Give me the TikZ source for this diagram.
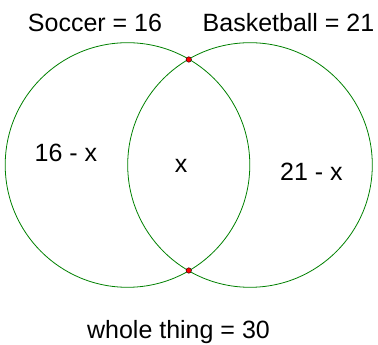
\documentclass[tikz,border=0pt]{standalone}
\usepackage{fontspec}
\setmainfont{Liberation Sans}
\begin{document}
\begin{tikzpicture}[x=1pt,y=1pt,
  setcircle/.style={draw=green!50!black,line width=0.8pt},
  dotmark/.style={circle,fill=red,draw=black,line width=0.4pt,inner sep=0pt,minimum size=5.5pt},
  lbl/.style={inner sep=0pt,anchor=base,font=\fontsize{25}{30}\selectfont}]
\useasboundingbox (0,0) rectangle (378,345);
\draw[setcircle] (127.5,180) circle[radius=122.3];
\draw[setcircle] (250,180) circle[radius=122.3];
\node[dotmark] (top) at (188.75,285.5) {};
\node[dotmark] (bot) at (188.75,74.5) {};
\node[lbl] (soccer) at (95,313) {Soccer = 16};
\node[lbl] (basket) at (288.5,313) {Basketball = 21};
\node[lbl] (left) at (66,183) {16 - x};
\node[lbl] (mid) at (181,172) {x};
\node[lbl] (right) at (311.5,164) {21 - x};
\node[lbl] (whole) at (178.5,6) {whole thing = 30};
\end{tikzpicture}
\end{document}
